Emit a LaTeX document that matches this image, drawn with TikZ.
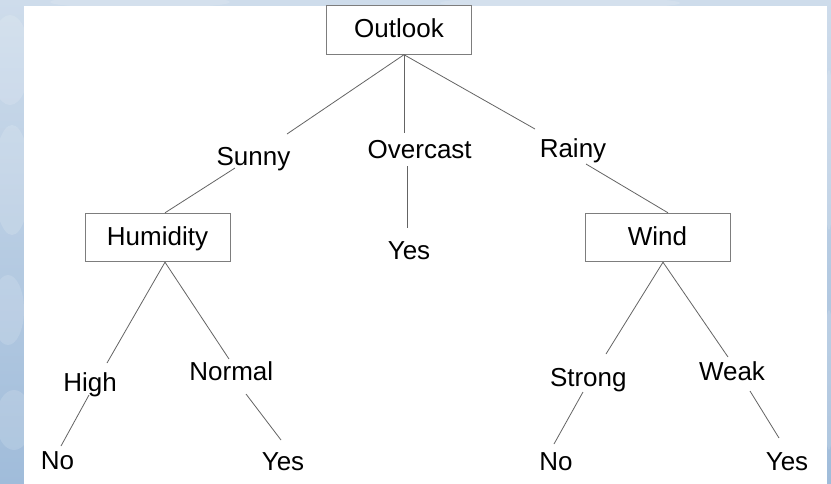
\documentclass[tikz,border=0pt]{standalone}
\usepackage{fontspec}
\setmainfont{Liberation Sans}
\usetikzlibrary{calc}
\definecolor{skytop}{RGB}{206,220,235}
\definecolor{skybot}{RGB}{160,188,218}
\definecolor{edgegray}{RGB}{100,100,100}
\definecolor{boxgray}{RGB}{125,125,125}
\begin{document}
\begin{tikzpicture}[x=1pt,y=-1pt,
  font=\fontsize{26}{31}\selectfont,
  attr/.style={draw=boxgray, line width=0.9pt, minimum width=145pt,
    minimum height=48.5pt, inner sep=0pt, text height=18.6pt, text depth=3pt},
  lbl/.style={anchor=base, inner sep=0pt},
  edge/.style={draw=edgegray, line width=0.8pt}]
\useasboundingbox (0,0) rectangle (831,483);

% sky backdrop with faint clouds
\shade[top color=skytop, bottom color=skybot] (-1,-1) rectangle (832,484);
\begin{scope}[white, opacity=0.14]
  \fill (10,60) ellipse (20 and 45);
  \fill (12,180) ellipse (18 and 55);
  \fill (8,310) ellipse (16 and 35);
  \fill (14,420) ellipse (18 and 30);
  \fill (140,2) ellipse (90 and 6);
  \fill (560,3) ellipse (120 and 6);
  \fill (829,150) ellipse (5 and 80);
  \fill (829,380) ellipse (5 and 70);
\end{scope}
\fill[white] (24,6) rectangle (827,485);

% attribute boxes
\node[attr] (outlook)  at (399,30)    {Outlook};
\node[attr] (humidity) at (157.5,237.5) {Humidity};
\node[attr] (wind)     at (657.5,237.5) {Wind};

% branch labels and leaves
\node[lbl] (sunny)    at (253.5,165)  {Sunny};
\node[lbl] (overcast) at (419.7,158.3) {Overcast};
\node[lbl] (rainy)    at (573,157.7)  {Rainy};
\node[lbl] (yesO)     at (409,259.3)  {Yes};
\node[lbl] (high)     at (90,391)     {High};
\node[lbl] (normal)   at (231.3,380)  {Normal};
\node[lbl] (noH)      at (57.5,469)   {No};
\node[lbl] (yesN)     at (283,470.7)  {Yes};
\node[lbl] (strong)   at (588.3,386)  {Strong};
\node[lbl] (weak)     at (732,380)    {Weak};
\node[lbl] (noS)      at (556,470)    {No};
\node[lbl] (yesW)     at (787,470)    {Yes};

% branching points on the boxes
\coordinate (oBot) at ($(outlook.south)+(5,0)$);
\coordinate (hTop) at ($(humidity.north)+(7.5,0)$);
\coordinate (hBot) at ($(humidity.south)+(7.5,0)$);
\coordinate (wTop) at ($(wind.north)+(10.5,0)$);
\coordinate (wBot) at ($(wind.south)+(5.5,0)$);

% free ends next to the labels
\coordinate (sunnyT)    at (287,134);
\coordinate (sunnyB)    at (235,168);
\coordinate (overcastT) at (404,133);
\coordinate (overcastB) at (407,166);
\coordinate (yesOT)     at (407,228);
\coordinate (rainyT)    at (535,129);
\coordinate (rainyB)    at (586,164);
\coordinate (highT)     at (107,363);
\coordinate (highB)     at (89,395);
\coordinate (noHT)      at (61,446);
\coordinate (normalT)   at (229,359);
\coordinate (normalB)   at (246,394);
\coordinate (yesNT)     at (281,440);
\coordinate (strongT)   at (606,354);
\coordinate (strongB)   at (583,392);
\coordinate (noST)      at (554,444);
\coordinate (weakT)     at (728,357);
\coordinate (weakB)     at (750,391);
\coordinate (yesWT)     at (779,438);

% connectors
\draw[edge] (oBot) -- (sunnyT);
\draw[edge] (oBot) -- (overcastT);
\draw[edge] (oBot) -- (rainyT);
\draw[edge] (sunnyB) -- (hTop);
\draw[edge] (overcastB) -- (yesOT);
\draw[edge] (rainyB) -- (wTop);
\draw[edge] (hBot) -- (highT);
\draw[edge] (hBot) -- (normalT);
\draw[edge] (highB) -- (noHT);
\draw[edge] (normalB) -- (yesNT);
\draw[edge] (wBot) -- (strongT);
\draw[edge] (wBot) -- (weakT);
\draw[edge] (strongB) -- (noST);
\draw[edge] (weakB) -- (yesWT);
\end{tikzpicture}
\end{document}
